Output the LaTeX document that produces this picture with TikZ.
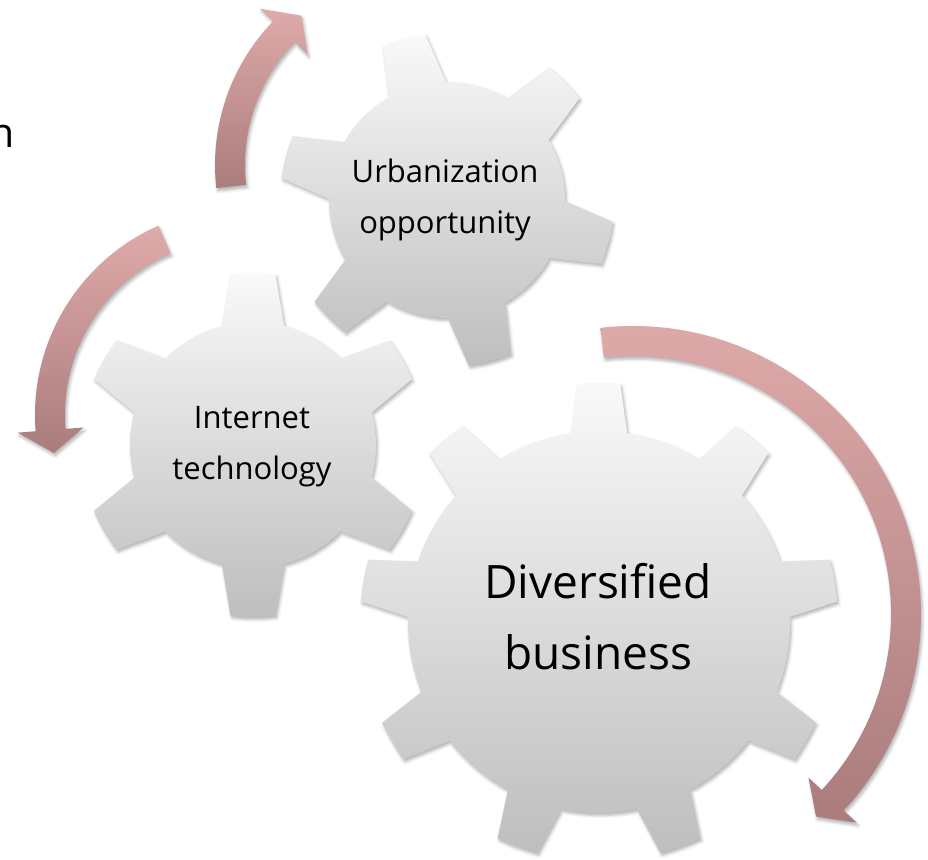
\documentclass[tikz,border=0pt]{standalone}
\usepackage{fontspec}
\setmainfont{Open Sans}
\usepackage{tikz}
\usetikzlibrary{shadows.blur}

\definecolor{geartop}{RGB}{249,249,249}
\definecolor{gearbot}{RGB}{190,190,190}
\definecolor{arrtop}{RGB}{223,170,170}
\definecolor{arrbot}{RGB}{170,124,124}

\tikzset{
  gearfill/.style={top color=geartop, bottom color=gearbot,
    blur shadow={shadow xshift=1.5pt, shadow yshift=-2.5pt,
      shadow blur radius=3pt, shadow opacity=30}},
  arrowfill/.style={top color=arrtop, bottom color=arrbot,
    blur shadow={shadow xshift=1.5pt, shadow yshift=-3pt,
      shadow blur radius=3pt, shadow opacity=30}},
  gtext/.style={align=center, font=\fontsize{31}{51}\selectfont},
  bigtext/.style={align=center, font=\fontsize{46}{71}\selectfont}
}

% centre, teeth, body radius, tip radius, first tooth, half base, half tip
\newcommand{\gear}[7]{%
  \path[gearfill, shift={#1}] ({#5-360/#2+#6}:#3)
    \foreach \k in {1,...,#2}{
      arc[start angle={#5+(\k-2)*360/#2+#6}, end angle={#5+(\k-1)*360/#2-#6}, radius=#3]
      -- ({#5+(\k-1)*360/#2-#7}:#4)
      arc[start angle={#5+(\k-1)*360/#2-#7}, end angle={#5+(\k-1)*360/#2+#7}, radius=#4]
      -- ({#5+(\k-1)*360/#2+#6}:#3)
    } -- cycle;}

% centre, radius, tail angle, head angle, tip angle
\newcommand{\bentarr}[5]{%
  \path[arrowfill, shift={#1}] (#3:{#2+15})
    arc[start angle=#3, end angle=#4, radius={#2+15}]
    -- (#4:{#2+33}) -- (#5:#2) -- (#4:{#2-33}) -- (#4:{#2-15})
    arc[start angle=#4, end angle=#3, radius={#2-15}] -- cycle;}

\begin{document}
\begin{tikzpicture}[x=1pt, y=1pt]
\useasboundingbox (0,0) rectangle (928,-859);
\clip (0,0) rectangle (928,-859);

\gear{(447,-200)}{6}{118}{167}{45}{14.5}{7.5}
\gear{(253,-445)}{6}{123}{172}{90}{14.7}{7.5}
\gear{(599,-622)}{9}{191}{239}{90}{8.5}{5.1}

\bentarr{(422,-165)}{192}{186.4}{136}{128.9}
\bentarr{(242,-415)}{192}{113.8}{184.5}{191.4}
\bentarr{(633,-614)}{273}{96.5}{-43}{-47.9}

\node[gtext] (urban) at (445,-200) {Urbanization\\opportunity};
\node[gtext] (internet) at (252,-447) {Internet\\technology};
\node[bigtext] (business) at (598,-617) {Diversified\\business};
\node[anchor=base east, inner sep=0pt, font=\fontsize{41}{41}\selectfont] (cut) at (15,-147) {n};
\end{tikzpicture}
\end{document}
